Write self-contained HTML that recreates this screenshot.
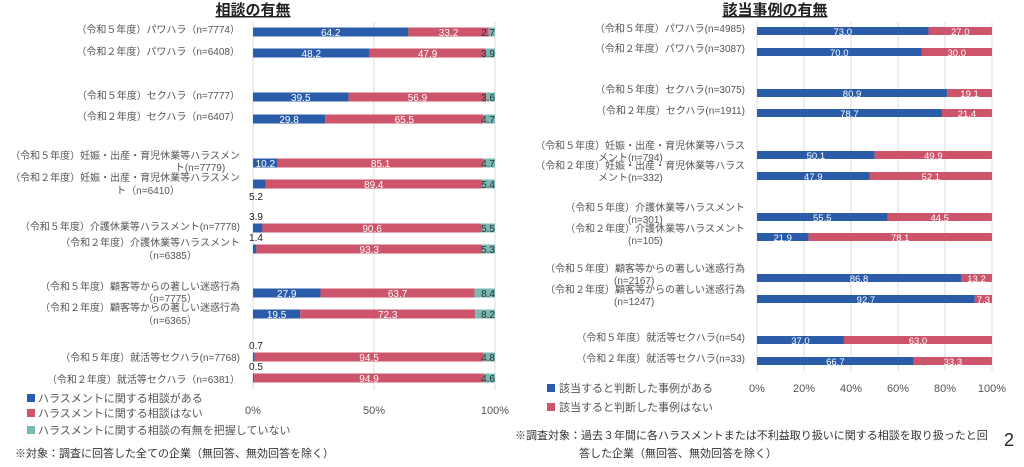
<!DOCTYPE html>
<html><head><meta charset="utf-8">
<style>
html,body{margin:0;padding:0;background:#fff;}
svg{display:block;font-family:"Liberation Sans","Noto Sans CJK JP",sans-serif;}
</style></head>
<body>
<svg id="c" width="1024" height="467" viewBox="0 0 1024 467"></svg>
<script>
// Left chart data (相談の有無)
const leftCats=["（令和５年度）パワハラ","（令和２年度）パワハラ","（令和５年度）セクハラ","（令和２年度）セクハラ","（令和５年度）妊娠・出産・育児休業等ハラスメント","（令和２年度）妊娠・出産・育児休業等ハラスメント","（令和５年度）介護休業等ハラスメント","（令和２年度）介護休業等ハラスメント","（令和５年度）顧客等からの著しい迷惑行為","（令和２年度）顧客等からの著しい迷惑行為","（令和５年度）就活等セクハラ","（令和２年度）就活等セクハラ"];
const leftYes=[64.2,48.2,39.5,29.8,10.2,5.2,3.9,1.4,27.9,19.5,0.7,0.5];
const leftNo=[33.2,47.9,56.9,65.5,85.1,89.4,90.6,93.3,63.7,72.3,94.5,94.9];
const leftUnknown=[2.7,3.9,3.6,4.7,4.7,5.4,5.5,5.3,8.4,8.2,4.8,4.6];
const leftTicks=["0%","50%","100%"];
// Right chart data (該当事例の有無)
const rightYes=[73.0,70.0,80.9,78.7,50.1,47.9,55.5,21.9,86.8,92.7,37.0,66.7];
const rightNo=[27.0,30.0,19.1,21.4,49.9,52.1,44.5,78.1,13.2,7.3,63.0,33.3];
const rightTicks=["0%","20%","40%","60%","80%","100%"];

const NS="http://www.w3.org/2000/svg";
const svg=document.getElementById('c');
function mk(tag,attrs,parent,text){const e=document.createElementNS(NS,tag);for(const k in attrs)e.setAttribute(k,attrs[k]);if(text!==undefined)e.textContent=text;(parent||svg).appendChild(e);return e;}
const BLUE="#2a5caa",RED="#cc546b",TEAL="#7ab8b3",GRAY="#555";

// Titles
let t=mk('text',{x:253,y:15,'text-anchor':'middle','font-size':15,'font-weight':'bold',fill:'#222','text-decoration':'underline'},svg,"相談の有無");


t=mk('text',{x:775,y:15,'text-anchor':'middle','font-size':15,'font-weight':'bold',fill:'#222','text-decoration':'underline'},svg,"該当事例の有無");



// LEFT CHART
const L={x0:253,x1:495,rowY:[32,53,97,119,163,184,228,249,293,314,357,378],bh:9};
function lx(v){return L.x0+(L.x1-L.x0)*v/100;}
const lg=mk('g',{});


[0,50,100].forEach((v,i)=>{
  const l=mk('line',{x1:lx(v),x2:lx(v),y1:22,y2:390,stroke:'#ddd','stroke-width':1},lg);
  
  
  const tx=mk('text',{x:lx(v),y:414,'text-anchor':'middle','font-size':11,fill:GRAY},lg,leftTicks[i]);
  
  
});
const leftLabelLines=[
 [["（令和５年度）パワハラ（n=7774）",29]],
 [["（令和２年度）パワハラ（n=6408）",51]],
 [["（令和５年度）セクハラ（n=7777）",95]],
 [["（令和２年度）セクハラ（n=6407）",116]],
 [["（令和５年度）妊娠・出産・育児休業等ハラスメン",155],["ト(n=7779)",167]],
 [["（令和２年度）妊娠・出産・育児休業等ハラスメン",177],["ト（n=6410）",190]],
 [["（令和５年度）介護休業等ハラスメント(n=7778)",226]],
 [["（令和２年度）介護休業等ハラスメント",242],["（n=6385）",255]],
 [["（令和５年度）顧客等からの著しい迷惑行為",286],["（n=7775）",298]],
 [["（令和２年度）顧客等からの著しい迷惑行為",307],["（n=6365）",320]],
 [["（令和５年度）就活等セクハラ(n=7768)",357]],
 [["（令和２年度）就活等セクハラ（n=6381）",379]]
];
leftCats.forEach((c,i)=>{
  const y=L.rowY[i];
  leftLabelLines[i].forEach(([s,ly],j)=>{
    const tx=mk('text',{x:j>0&&leftLabelLines[i].length>1&&s.startsWith('ト')?(i===4?200:148):240,y:ly+4,'text-anchor':(j>0&&s.startsWith('ト'))?'middle':(j>0?'middle':'end'),'font-size':10,fill:GRAY},lg,s);
    if(j>0&&!s.startsWith('ト'))tx.setAttribute('x',170);
    
    
  });
  const segs=[[0,leftYes[i],BLUE,'#fff'],[leftYes[i],leftYes[i]+leftNo[i],RED,'#fff'],[leftYes[i]+leftNo[i],leftYes[i]+leftNo[i]+leftUnknown[i],TEAL,'#333']];
  const vals=[leftYes[i],leftNo[i],leftUnknown[i]];
  const names=['left-bar-consulted','left-bar-not-consulted','left-bar-unknown'];
  segs.forEach((s,k)=>{
    const r=mk('rect',{x:lx(s[0]),y:y-L.bh/2,width:Math.max(0,lx(Math.min(s[1],100))-lx(s[0])),height:L.bh,fill:s[2]},lg);
    
    
    const v=vals[k].toFixed(1);
    let tx;
    if(k===2){
      tx=mk('text',{x:L.x1,y:y+4,'text-anchor':'end','font-size':10,fill:'#333'},lg,v);
    } else if(vals[k]<8){
      const below=(i===5);
      tx=mk('text',{x:L.x0+3,y:below?y+16:y-8,'text-anchor':'middle','font-size':10,fill:'#222'},lg,v);
    } else {
      tx=mk('text',{x:(lx(s[0])+lx(s[1]))/2,y:y+4,'text-anchor':'middle','font-size':10,fill:'#fff'},lg,v);
    }
    
    
  });
});
// left legend
const leftLegend=[["ハラスメントに関する相談がある",BLUE,398],["ハラスメントに関する相談はない",RED,413],["ハラスメントに関する相談の有無を把握していない",TEAL,430]];
leftLegend.forEach(([s,col,y])=>{
  const g=mk('g',{},lg);
  
  
  mk('rect',{x:27,y:y-4,width:8,height:8,fill:col},g);
  mk('text',{x:38,y:y+4,'font-size':11,fill:GRAY},g,s);
});
t=mk('text',{x:15,y:457,'font-size':11,fill:'#333'},lg,"※対象：調査に回答した全ての企業（無回答、無効回答を除く）");



// RIGHT CHART
const R={x0:757,x1:992,rowY:[31,52,93,113,155,176,217,237,278,299,340,361],bh:8};
function rx(v){return R.x0+(R.x1-R.x0)*v/100;}
const rg=mk('g',{});


[0,20,40,60,80,100].forEach((v,i)=>{
  const l=mk('line',{x1:rx(v),x2:rx(v),y1:22,y2:371,stroke:'#ddd','stroke-width':1},rg);
  
  
  const tx=mk('text',{x:rx(v),y:392,'text-anchor':'middle','font-size':11,fill:GRAY},rg,rightTicks[i]);
  
  
});
const rightLabelLines=[
 [["（令和５年度）パワハラ(n=4985)",745,28]],
 [["（令和２年度）パワハラ(n=3087)",745,48]],
 [["（令和５年度）セクハラ(n=3075)",745,89]],
 [["（令和２年度）セクハラ(n=1911)",745,110]],
 [["（令和５年度）妊娠・出産・育児休業等ハラス",745,145],["メント(n=794)",598,157]],
 [["（令和２年度）妊娠・出産・育児休業等ハラス",745,165],["メント(n=332)",598,177]],
 [["（令和５年度）介護休業等ハラスメント",745,207],["(n=301)",628,219]],
 [["（令和２年度）介護休業等ハラスメント",745,228],["(n=105)",628,240]],
 [["（令和５年度）顧客等からの著しい迷惑行為",745,268],["(n=2167)",614,280]],
 [["（令和２年度）顧客等からの著しい迷惑行為",745,289],["(n=1247)",614,301]],
 [["（令和５年度）就活等セクハラ(n=54)",745,337]],
 [["（令和２年度）就活等セクハラ(n=33)",745,358]]
];
rightYes.forEach((yv,i)=>{
  const y=R.rowY[i];
  rightLabelLines[i].forEach(([s,x,ly],j)=>{
    const tx=mk('text',{x:x,y:ly+4,'text-anchor':j===0?'end':'start','font-size':10,fill:GRAY},rg,s);
    
    
  });
  const segs=[[0,yv,BLUE],[yv,yv+rightNo[i],RED]];
  const vals=[yv,rightNo[i]];
  const names=['right-bar-has-case','right-bar-no-case'];
  segs.forEach((s,k)=>{
    const r=mk('rect',{x:rx(s[0]),y:y-R.bh/2,width:Math.max(0,rx(Math.min(s[1],100))-rx(s[0])),height:R.bh,fill:s[2]},rg);
    
    
    const tx=mk('text',{x:(rx(s[0])+rx(Math.min(s[1],100)))/2,y:y+4,'text-anchor':'middle','font-size':9.5,fill:'#fff'},rg,vals[k].toFixed(1));
    
    
  });
});
const rightLegend=[["該当すると判断した事例がある",BLUE,388],["該当すると判断した事例はない",RED,407]];
rightLegend.forEach(([s,col,y])=>{
  const g=mk('g',{},rg);
  
  
  mk('rect',{x:547,y:y-4,width:8,height:8,fill:col},g);
  mk('text',{x:559,y:y+4,'font-size':11,fill:GRAY},g,s);
});
t=mk('text',{x:515,y:439,'font-size':11,fill:'#333'},rg,"※調査対象：過去３年間に各ハラスメントまたは不利益取り扱いに関する相談を取り扱ったと回");


t=mk('text',{x:579,y:457,'font-size':11,fill:'#333'},rg,"答した企業（無回答、無効回答を除く）");


t=mk('text',{x:1004,y:446,'font-size':18,fill:'#222'},svg,"2");


</script>
</body></html>
